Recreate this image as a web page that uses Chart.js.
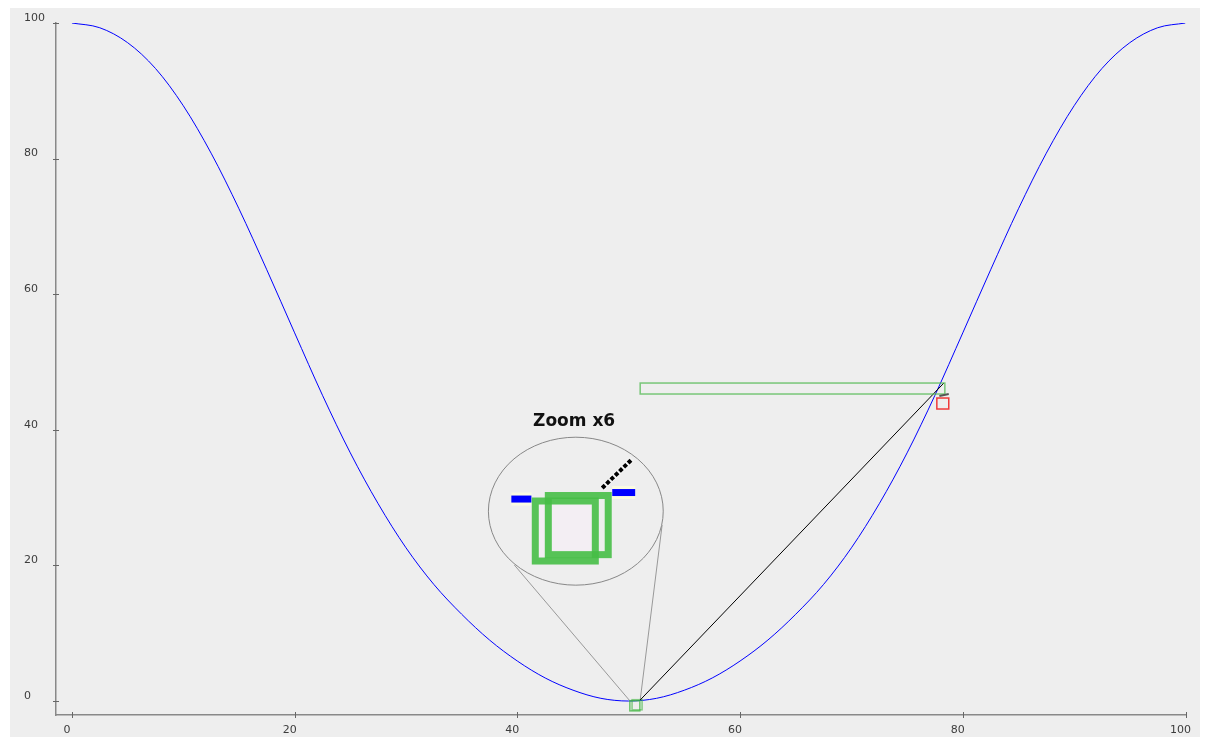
<!DOCTYPE html>
<html>
<head>
<meta charset="utf-8">
<title>Zoom x6</title>
<script src="https://cdn.jsdelivr.net/npm/chart.js@4.4.1/dist/chart.umd.min.js"></script>
<style>
  html, body { margin: 0; padding: 0; background: #ffffff; }
  #chart { display: block; }
</style>
</head>
<body>
<canvas id="chart" width="1205" height="737"></canvas>
<script>
// curve samples
const xValues = [0, 2.5, 5, 7.5, 10, 12.5, 15, 17.5, 20, 22.5, 25, 27.5, 30, 32.5, 35, 37.5, 40, 42.5, 45, 47.5,
  50, 52.5, 55, 57.5, 60, 62.5, 65, 67.5, 70, 72.5, 75, 77.5, 80, 82.5, 85, 87.5, 90, 92.5, 95, 97.5, 100];
const yValues = [100, 99.3, 97.1, 93.3, 87.8, 80.8, 72.6, 63.6, 54.3, 45.1, 36.6, 29.1, 22.6, 17.2, 12.8, 9.0, 5.9, 3.4, 1.6, 0.4,
  0, 0.4, 1.6, 3.4, 5.9, 9.0, 12.8, 17.2, 22.6, 29.1, 36.6, 45.1, 54.3, 63.6, 72.6, 80.8, 87.8, 93.3, 97.1, 99.3, 100];
const xTicks = [0, 20, 40, 60, 80, 100];
const yTicks = [0, 20, 40, 60, 80, 100];

const points = xValues.map((x, i) => ({ x: x, y: yValues[i] }));

// grey panel behind everything
const panelBg = {
  id: 'panelBg',
  beforeDraw(chart) {
    const ctx = chart.ctx;
    ctx.save();
    ctx.fillStyle = '#ffffff';
    ctx.fillRect(0, 0, chart.width, chart.height);
    ctx.fillStyle = '#eeeeee';
    ctx.fillRect(10, 8, chart.width - 15, chart.height - 4);
    ctx.restore();
  }
};

// little cross ticks on both axes
const crossTicks = {
  id: 'crossTicks',
  afterDraw(chart) {
    const { ctx, scales: { x, y }, chartArea } = chart;
    ctx.save();
    ctx.strokeStyle = '#666';
    ctx.lineWidth = 1;
    yTicks.forEach(v => {
      const py = Math.round(y.getPixelForValue(v)) + 0.5;
      ctx.beginPath();
      ctx.moveTo(chartArea.left - 3, py);
      ctx.lineTo(chartArea.left + 3, py);
      ctx.stroke();
    });
    xTicks.forEach(v => {
      const px = Math.round(x.getPixelForValue(v)) + 0.5;
      ctx.beginPath();
      ctx.moveTo(px, chartArea.bottom - 3);
      ctx.lineTo(px, chartArea.bottom + 3);
      ctx.stroke();
    });
    ctx.restore();
  }
};

// zoom lens and the marker boxes
const lens = {
  id: 'lens',
  afterDatasetsDraw(chart) {
    const { ctx, scales: { x, y } } = chart;
    const P = (a, b) => [x.getPixelForValue(a), y.getPixelForValue(b)];
    const line = (a, b, color, w, dash) => {
      const p = P(a[0], a[1]), q = P(b[0], b[1]);
      ctx.beginPath();
      ctx.setLineDash(dash || []);
      ctx.strokeStyle = color;
      ctx.lineWidth = w;
      ctx.moveTo(p[0], p[1]);
      ctx.lineTo(q[0], q[1]);
      ctx.stroke();
      ctx.setLineDash([]);
    };
    const rect = (x0, y0, x1, y1, color, w, fill) => {
      const p = P(x0, y0), q = P(x1, y1);
      if (fill) {
        ctx.fillStyle = fill;
        ctx.fillRect(p[0], p[1], q[0] - p[0], q[1] - p[1]);
      }
      ctx.strokeStyle = color;
      ctx.lineWidth = w;
      ctx.strokeRect(p[0], p[1], q[0] - p[0], q[1] - p[1]);
    };

    ctx.save();

    // lines from the lens down to the point
    line([39.73, 20.06], [50.04, 0.15], '#999999', 1);
    line([53.0, 25.96], [51.03, 0.15], '#999999', 1);

    // lens
    const c = P(45.25, 28.0);
    const rx = x.getPixelForValue(45.25 + 7.85) - c[0];
    const ry = c[1] - y.getPixelForValue(28.0 + 10.91);
    ctx.beginPath();
    ctx.ellipse(c[0], c[1], rx, ry, 0, 0, Math.PI * 2);
    ctx.fillStyle = '#eeeeee';
    ctx.fill();
    ctx.strokeStyle = '#888888';
    ctx.lineWidth = 1;
    ctx.stroke();

    // magnified content
    line([39.46, 29.79], [41.26, 29.79], '#fbfbe2', 13);
    line([48.52, 30.75], [50.58, 30.75], '#fbfbe2', 13);
    line([39.46, 29.79], [41.26, 29.79], '#0000ff', 7);
    line([48.52, 30.75], [50.58, 30.75], '#0000ff', 7);
    line([47.62, 31.42], [50.31, 35.69], '#f4f4f4', 6);
    line([47.62, 31.42], [50.31, 35.69], '#000000', 4, [4, 2]);
    rect(41.61, 29.5, 47.0, 20.65, 'rgba(70,190,70,0.9)', 7, '#f3eef3');
    rect(42.78, 30.31, 48.16, 21.59, 'rgba(70,190,70,0.9)', 7);

    // caption
    const t = P(45.1, 41.15);
    ctx.fillStyle = '#111111';
    ctx.font = 'bold 17px "DejaVu Sans"';
    ctx.textAlign = 'center';
    ctx.textBaseline = 'middle';
    ctx.fillText('Zoom x6', t[0], t[1]);

    // small squares at the bottom of the curve
    rect(50.1, 0.05, 51.0, -1.45, 'rgba(60,180,60,0.75)', 1.5);
    rect(50.3, 0.2, 51.2, -1.3, 'rgba(60,180,60,0.6)', 1.5);

    // black connector and the long box
    line([51.03, 0.15], [78.3, 46.9], '#000000', 1);
    rect(51.03, 46.9, 78.39, 45.28, 'rgba(80,185,80,0.75)', 1.5);

    // red box and small dash
    rect(77.67, 44.69, 78.74, 43.07, '#f03a3a', 1.5);
    line([77.9, 44.99], [78.74, 45.28], '#555555', 2);

    ctx.restore();
  }
};

const tickFont = { family: '"DejaVu Sans", sans-serif', size: 11 };

new Chart(document.getElementById('chart'), {
  type: 'line',
  data: {
    datasets: [{
      data: points,
      borderColor: '#0000ff',
      borderWidth: 1,
      pointRadius: 0,
      fill: false,
      cubicInterpolationMode: 'monotone'
    }]
  },
  options: {
    responsive: false,
    animation: false,
    devicePixelRatio: 1,
    layout: { padding: { left: 24, top: 23, right: 17, bottom: 0 } },
    plugins: { legend: { display: false }, tooltip: { enabled: false } },
    scales: {
      x: {
        type: 'linear',
        min: -1.43,
        max: 100,
        afterBuildTicks: s => { s.ticks = xTicks.map(v => ({ value: v })); },
        afterFit: s => { s.height = 22; },
        grid: { display: false, drawTicks: false },
        border: { color: '#888888', width: 1.5 },
        ticks: { font: tickFont, color: '#3c3c3c', padding: 9, labelOffset: -5, maxRotation: 0 }
      },
      y: {
        type: 'linear',
        min: -2.06,
        max: 100,
        afterBuildTicks: s => { s.ticks = yTicks.map(v => ({ value: v })); },
        afterFit: s => { s.width = 32; },
        grid: { display: false, drawTicks: false },
        border: { color: '#888888', width: 1.5 },
        ticks: { font: tickFont, color: '#3c3c3c', padding: 8, labelOffset: -5, crossAlign: 'far' }
      }
    }
  },
  plugins: [panelBg, crossTicks, lens]
});
</script>
</body>
</html>
